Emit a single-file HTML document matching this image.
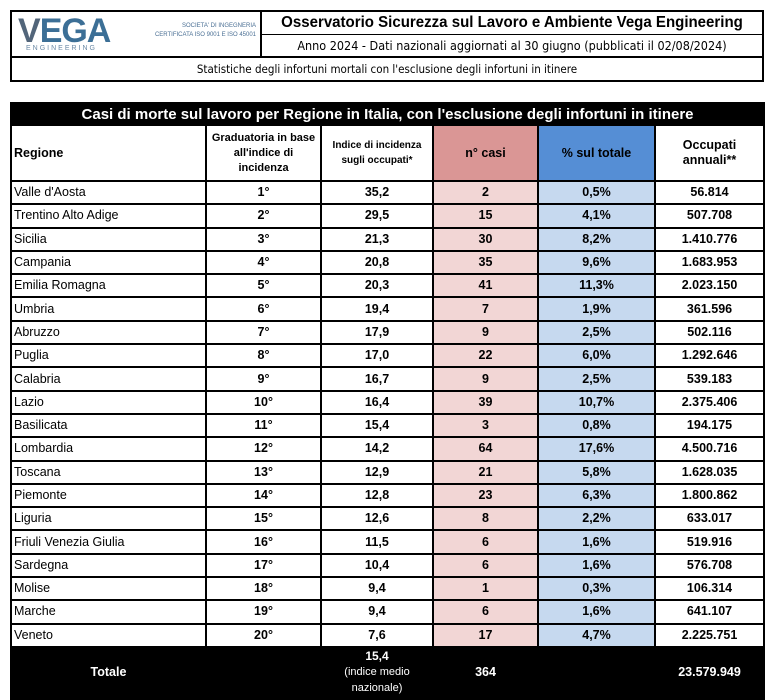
<!DOCTYPE html><html><head><meta charset="utf-8"><style>
body{margin:0;width:766px;height:696px;background:#fff;overflow:hidden;font-family:"Liberation Sans",Arial,sans-serif;position:relative}
.hdr{position:absolute;left:10px;top:10px;width:750px;height:68px;border:2px solid #000}
.logo{position:absolute;left:0;top:0;width:248px;height:44px;border-right:2px solid #000}
.t1{position:absolute;left:250px;top:0;width:500px;height:22px;border-bottom:1px solid #000;font-weight:bold;font-size:16px;line-height:22px;overflow:hidden}
.t1 span{position:absolute;left:50%;top:0;white-space:nowrap;transform:translateX(-50%) scaleX(.94)}
.t2{position:absolute;left:250px;top:23px;width:500px;height:21px;text-align:center;font-family:"DejaVu Sans Condensed","Liberation Sans Narrow",sans-serif;font-size:12.5px;line-height:21px;white-space:nowrap}
.t3{position:absolute;left:0;top:44px;width:750px;height:24px;border-top:2px solid #000;text-align:center;font-family:"DejaVu Sans Condensed","Liberation Sans Narrow",sans-serif;font-size:11.5px;line-height:22px}
table{position:absolute;left:10px;top:102px;border-collapse:collapse;table-layout:fixed;width:753px}
td{border:2px solid #000;padding:0;text-align:center;font-weight:bold;font-size:12.5px;height:21.3px;line-height:19px;overflow:hidden;white-space:nowrap}
td.r{text-align:left;font-weight:normal;padding-left:2px}
td.p{background:#f2d6d5}td.b{background:#c6d9ef}
.title td{background:#000;color:#fff;font-size:15px;height:20px}
.head td{height:54px;white-space:normal;line-height:15px;font-size:11px}
.tot td{background:#000;color:#fff;height:50px;border-color:#000}
</style></head><body>
<div class="hdr">
<div class="logo">
<div style="position:absolute;left:6px;top:0;font-size:34px;color:#3c6f96;font-weight:bold;letter-spacing:-1px;font-family:'Liberation Sans'"><span style="color:#52657a">V</span>EGA</div>
<div style="position:absolute;left:14px;top:33px;font-size:7px;color:#6b8aa6;letter-spacing:2px">ENGINEERING</div>
<div style="position:absolute;left:118px;top:10px;width:126px;text-align:right;font-size:6px;color:#4a6f94;line-height:9px">SOCIETA' DI INGEGNERIA<br>CERTIFICATA ISO 9001 E ISO 45001</div>
</div>
<div class="t1"><span>Osservatorio Sicurezza sul Lavoro e Ambiente Vega Engineering</span></div>
<div class="t2">Anno 2024 - Dati nazionali aggiornati al 30 giugno (pubblicati il 02/08/2024)</div>
<div class="t3">Statistiche degli infortuni mortali con l'esclusione degli infortuni in itinere</div>
</div>
<table>
<colgroup><col style="width:195px"><col style="width:115px"><col style="width:112px"><col style="width:105px"><col style="width:117px"><col style="width:109px"></colgroup>
<tr class="title"><td colspan="6">Casi di morte sul lavoro per Regione in Italia, con l'esclusione degli infortuni in itinere</td></tr>
<tr class="head"><td class="r" style="font-weight:bold;font-size:12.5px">Regione</td><td style="padding:0 4px">Graduatoria in base all'indice di incidenza</td><td style="font-size:10px">Indice di incidenza sugli occupati*</td><td style="background:#da9695;font-size:12.5px">n° casi</td><td style="background:#558ed5;font-size:12.5px">% sul totale</td><td style="font-size:12.5px">Occupati annuali**</td></tr>
<tr><td class="r">Valle d'Aosta</td><td>1°</td><td>35,2</td><td class="p">2</td><td class="b">0,5%</td><td>56.814</td></tr>
<tr><td class="r">Trentino Alto Adige</td><td>2°</td><td>29,5</td><td class="p">15</td><td class="b">4,1%</td><td>507.708</td></tr>
<tr><td class="r">Sicilia</td><td>3°</td><td>21,3</td><td class="p">30</td><td class="b">8,2%</td><td>1.410.776</td></tr>
<tr><td class="r">Campania</td><td>4°</td><td>20,8</td><td class="p">35</td><td class="b">9,6%</td><td>1.683.953</td></tr>
<tr><td class="r">Emilia Romagna</td><td>5°</td><td>20,3</td><td class="p">41</td><td class="b">11,3%</td><td>2.023.150</td></tr>
<tr><td class="r">Umbria</td><td>6°</td><td>19,4</td><td class="p">7</td><td class="b">1,9%</td><td>361.596</td></tr>
<tr><td class="r">Abruzzo</td><td>7°</td><td>17,9</td><td class="p">9</td><td class="b">2,5%</td><td>502.116</td></tr>
<tr><td class="r">Puglia</td><td>8°</td><td>17,0</td><td class="p">22</td><td class="b">6,0%</td><td>1.292.646</td></tr>
<tr><td class="r">Calabria</td><td>9°</td><td>16,7</td><td class="p">9</td><td class="b">2,5%</td><td>539.183</td></tr>
<tr><td class="r">Lazio</td><td>10°</td><td>16,4</td><td class="p">39</td><td class="b">10,7%</td><td>2.375.406</td></tr>
<tr><td class="r">Basilicata</td><td>11°</td><td>15,4</td><td class="p">3</td><td class="b">0,8%</td><td>194.175</td></tr>
<tr><td class="r">Lombardia</td><td>12°</td><td>14,2</td><td class="p">64</td><td class="b">17,6%</td><td>4.500.716</td></tr>
<tr><td class="r">Toscana</td><td>13°</td><td>12,9</td><td class="p">21</td><td class="b">5,8%</td><td>1.628.035</td></tr>
<tr><td class="r">Piemonte</td><td>14°</td><td>12,8</td><td class="p">23</td><td class="b">6,3%</td><td>1.800.862</td></tr>
<tr><td class="r">Liguria</td><td>15°</td><td>12,6</td><td class="p">8</td><td class="b">2,2%</td><td>633.017</td></tr>
<tr><td class="r">Friuli Venezia Giulia</td><td>16°</td><td>11,5</td><td class="p">6</td><td class="b">1,6%</td><td>519.916</td></tr>
<tr><td class="r">Sardegna</td><td>17°</td><td>10,4</td><td class="p">6</td><td class="b">1,6%</td><td>576.708</td></tr>
<tr><td class="r">Molise</td><td>18°</td><td>9,4</td><td class="p">1</td><td class="b">0,3%</td><td>106.314</td></tr>
<tr><td class="r">Marche</td><td>19°</td><td>9,4</td><td class="p">6</td><td class="b">1,6%</td><td>641.107</td></tr>
<tr><td class="r">Veneto</td><td>20°</td><td>7,6</td><td class="p">17</td><td class="b">4,7%</td><td>2.225.751</td></tr>
<tr class="tot"><td>Totale</td><td></td><td style="white-space:normal;line-height:15px;font-size:12px">15,4<br><span style="font-weight:normal;font-size:11px">(indice medio nazionale)</span></td><td>364</td><td></td><td>23.579.949</td></tr>
</table>
</body></html>
